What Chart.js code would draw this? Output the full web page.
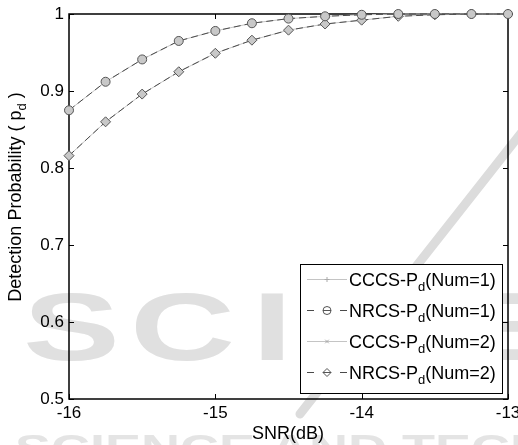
<!DOCTYPE html>
<html>
<head>
<meta charset="utf-8">
<script src="https://cdn.jsdelivr.net/npm/chart.js@4.4.0/dist/chart.umd.min.js"></script>
<style>
 html, body { margin:0; padding:0; background:#fff; }
 #wrap { width:518px; height:445px; }
</style>
</head>
<body>
<div id="wrap"><canvas id="myChart" width="518" height="445"></canvas></div>
<script>
// SNR (dB) sample points
var snr = [-16, -15.75, -15.5, -15.25, -15, -14.75, -14.5, -14.25, -14, -13.75, -13.5, -13.25, -13];
// detection probability curves (CCCS sits under NRCS)
var cccs1 = [0.875, 0.912, 0.941, 0.965, 0.978, 0.988, 0.994, 0.997, 0.999, 1, 1, 1, 1];
var nrcs1 = [0.875, 0.912, 0.941, 0.965, 0.978, 0.988, 0.994, 0.997, 0.999, 1, 1, 1, 1];
var cccs2 = [0.816, 0.860, 0.896, 0.925, 0.949, 0.966, 0.979, 0.987, 0.992, 0.997, 0.999, 1, 1];
var nrcs2 = [0.816, 0.860, 0.896, 0.925, 0.949, 0.966, 0.979, 0.987, 0.992, 0.997, 0.999, 1, 1];
var xTicks = [-16, -15, -14, -13];
var yTicks = [0.5, 0.6, 0.7, 0.8, 0.9, 1];
var legendLabels = [
 ["CCCS-P", "d", "(Num=1)"],
 ["NRCS-P", "d", "(Num=1)"],
 ["CCCS-P", "d", "(Num=2)"],
 ["NRCS-P", "d", "(Num=2)"]
];
var xTitle = "SNR(dB)";
var yTitle = ["Detection Probability ( p", "d", " )"];

var FONT = '"Liberation Sans", Arial, sans-serif';

function pts(arr) {
 var out = [];
 for (var i = 0; i < snr.length; i++) out.push({x: snr[i], y: arr[i]});
 return out;
}

// faint publisher watermark behind everything
var watermark = {
 id: 'watermark',
 beforeDraw: function(chart) {
 var ctx = chart.ctx;
 ctx.save();
 ctx.fillStyle = '#e0e0e0';
 ctx.font = 'bold 97px ' + FONT;
 var letters = [['S', 23], ['C', 130], ['I', 252], ['T', 305], ['E', 443]];
 letters.forEach(function(l) {
 ctx.save();
 ctx.translate(l[1], 360);
 ctx.scale(1.5, 1);
 ctx.fillText(l[0], 0, 0);
 ctx.restore();
 });
 ctx.save();
 ctx.fillStyle = '#e4e4e4';
 ctx.font = 'bold 36px ' + FONT;
 ctx.translate(15, 461);
 ctx.scale(1.5, 1);
 ctx.fillText('SCIENCE AND TECHNOLOGY', 0, 0);
 ctx.restore();
 ctx.strokeStyle = '#dcdcdc';
 ctx.lineWidth = 9;
 ctx.lineCap = 'round';
 ctx.beginPath();
 ctx.moveTo(522, 132);
 ctx.lineTo(300, 414);
 ctx.stroke();
 ctx.restore();
 }
};

// matlab style box with inward ticks
var axesBox = {
 id: 'axesBox',
 beforeDatasetsDraw: function(chart) {
 var ctx = chart.ctx, a = chart.chartArea;
 var xs = chart.scales.x, ys = chart.scales.y;
 ctx.save();
 ctx.strokeStyle = '#000';
 ctx.lineWidth = 1.5;
 ctx.strokeRect(a.left, a.top, a.right - a.left, a.bottom - a.top);
 ctx.lineWidth = 1;
 ctx.beginPath();
 xTicks.forEach(function(v) {
 var px = Math.round(xs.getPixelForValue(v)) + 0.5;
 ctx.moveTo(px, a.bottom); ctx.lineTo(px, a.bottom - 5);
 ctx.moveTo(px, a.top); ctx.lineTo(px, a.top + 5);
 });
 yTicks.forEach(function(v) {
 var py = Math.round(ys.getPixelForValue(v)) + 0.5;
 ctx.moveTo(a.left, py); ctx.lineTo(a.left + 5, py);
 ctx.moveTo(a.right, py); ctx.lineTo(a.right - 5, py);
 });
 ctx.stroke();
 ctx.restore();
 }
};

function subText(ctx, parts, x, y, size) {
 ctx.font = size + 'px ' + FONT;
 ctx.fillText(parts[0], x, y);
 x += ctx.measureText(parts[0]).width;
 ctx.font = Math.round(size * 0.72) + 'px ' + FONT;
 ctx.fillText(parts[1], x, y + 5);
 x += ctx.measureText(parts[1]).width;
 ctx.font = size + 'px ' + FONT;
 ctx.fillText(parts[2], x, y);
}

var legendAndTitles = {
 id: 'legendAndTitles',
 afterDraw: function(chart) {
 var ctx = chart.ctx;
 ctx.save();
 ctx.fillStyle = '#000';
 ctx.textBaseline = 'alphabetic';
 // axis titles
 ctx.font = '18px ' + FONT;
 ctx.textAlign = 'center';
 ctx.fillText(xTitle, 288, 439);
 ctx.textAlign = 'left';
 ctx.save();
 ctx.translate(21, 197);
 ctx.rotate(-Math.PI / 2);
 ctx.font = '18px ' + FONT;
 var w = ctx.measureText(yTitle[0]).width + ctx.measureText(yTitle[2]).width;
 ctx.font = '13px ' + FONT;
 w += ctx.measureText(yTitle[1]).width;
 subText(ctx, yTitle, -w / 2, 0, 18);
 ctx.restore();

 // legend box
 var bx = 300, by = 264, bw = 202, bh = 129;
 ctx.fillStyle = '#fff';
 ctx.fillRect(bx, by, bw, bh);
 ctx.strokeStyle = '#000';
 ctx.lineWidth = 1;
 ctx.strokeRect(bx + 0.5, by + 0.5, bw, bh);
 var ds = chart.data.datasets;
 for (var i = 0; i < ds.length; i++) {
 var base = 286 + i * 31;
 var ly = base - 6.5;
 var d = ds[i];
 ctx.save();
 ctx.strokeStyle = d.borderColor;
 ctx.lineWidth = 1;
 ctx.beginPath();
 if (d.borderDash) {
 ctx.moveTo(307, ly); ctx.lineTo(314, ly);
 ctx.moveTo(340, ly); ctx.lineTo(347, ly);
 } else {
 ctx.moveTo(307, ly); ctx.lineTo(347, ly);
 }
 ctx.stroke();
 ctx.fillStyle = 'rgba(255,255,255,0)';
 ctx.strokeStyle = d.pointBorderColor;
 Chart.helpers.drawPoint(ctx, {
 pointStyle: d.pointStyle, radius: i % 2 ? 4 : 2.5, borderWidth: 1, rotation: 0
 }, 327, ly);
 if (d.borderDash) {
 ctx.beginPath();
 ctx.moveTo(323, ly); ctx.lineTo(331, ly);
 ctx.stroke();
 }
 ctx.restore();
 ctx.fillStyle = '#000';
 subText(ctx, legendLabels[i], 349, base, 18);
 }
 ctx.restore();
 }
};

new Chart("myChart", {
 type: "line",
 data: {
 datasets: [
 {
 label: "CCCS-Pd(Num=1)",
 data: pts(cccs1),
 borderColor: "#c4c4c4",
 borderWidth: 1,
 pointStyle: "cross",
 pointRadius: 3,
 pointBorderColor: "#aaaaaa",
 pointBackgroundColor: "#aaaaaa",
 order: 2,
 clip: false
 },
 {
 label: "NRCS-Pd(Num=1)",
 data: pts(nrcs1),
 borderColor: "#4a4a4a",
 borderWidth: 1,
 borderDash: [7, 4],
 pointStyle: "circle",
 pointRadius: 4.5,
 pointBorderWidth: 1,
 pointBorderColor: "#555555",
 pointBackgroundColor: "#c8c8c8",
 order: 1,
 clip: false
 },
 {
 label: "CCCS-Pd(Num=2)",
 data: pts(cccs2),
 borderColor: "#c4c4c4",
 borderWidth: 1,
 pointStyle: "crossRot",
 pointRadius: 2.5,
 pointBorderColor: "#aaaaaa",
 pointBackgroundColor: "#aaaaaa",
 order: 2,
 clip: false
 },
 {
 label: "NRCS-Pd(Num=2)",
 data: pts(nrcs2),
 borderColor: "#4a4a4a",
 borderWidth: 1,
 borderDash: [7, 4],
 pointStyle: "rectRot",
 pointRadius: 5,
 pointBorderWidth: 1,
 pointBorderColor: "#555555",
 pointBackgroundColor: "#c8c8c8",
 order: 1,
 clip: false
 }
 ]
 },
 options: {
 responsive: false,
 animation: false,
 layout: { padding: { left: 0, right: 10, top: 14, bottom: 0 } },
 plugins: {
 legend: { display: false },
 tooltip: { enabled: false }
 },
 elements: { line: { tension: 0 } },
 scales: {
 x: {
 type: "linear",
 min: -16,
 max: -13,
 afterBuildTicks: function(s) { s.ticks = xTicks.map(function(v) { return {value: v}; }); },
 afterFit: function(s) { s.height = 46; s.paddingLeft = 0; s.paddingRight = 0; },
 grid: { display: false, drawTicks: false },
 border: { display: false },
 ticks: { color: "#000", font: { family: FONT, size: 17 }, padding: 4, maxRotation: 0 }
 },
 y: {
 min: 0.5,
 max: 1,
 afterBuildTicks: function(s) { s.ticks = yTicks.map(function(v) { return {value: v}; }); },
 afterFit: function(s) { s.width = 69; s.paddingTop = 0; s.paddingBottom = 0; },
 grid: { display: false, drawTicks: false },
 border: { display: false },
 ticks: {
 color: "#000", font: { family: FONT, size: 17 }, padding: 5,
 callback: function(v) { return String(Math.round(v * 10) / 10); }
 }
 }
 }
 },
 plugins: [watermark, axesBox, legendAndTitles]
});
</script>
</body>
</html>
